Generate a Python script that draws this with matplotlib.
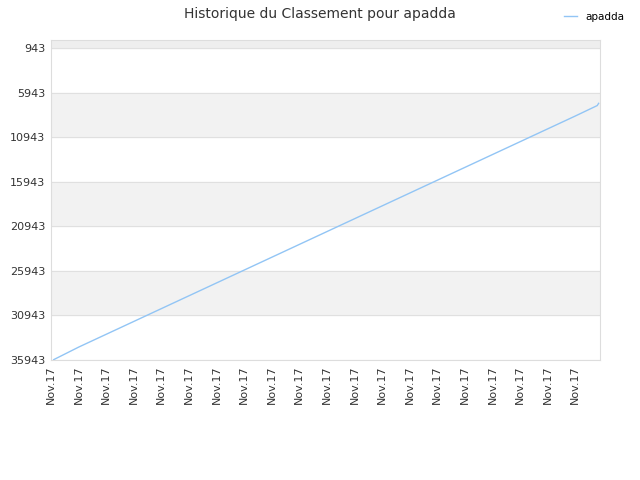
import matplotlib
matplotlib.use("Agg")
from matplotlib import pyplot as plt

# rank history (lower = better), one value per day
days = [0.1] + list(range(1, 20)) + [19.8, 19.85]
ranks = [35900, 34500, 33060, 31620, 30180, 28740, 27300, 25860, 24420, 22980,
         21540, 20100, 18660, 17220, 15780, 14340, 12900, 11460, 10020, 8580,
         7400, 7150]
tick_pos = list(range(20))
tick_labels = ["Nov.17"] * 20
yticks = [943, 5943, 10943, 15943, 20943, 25943, 30943, 35943]

fig = plt.figure(figsize=(6.4, 4.8), dpi=100)
ax = fig.add_axes([51 / 640, 1 - 360 / 480, 549 / 640, 320 / 480])

# alternating bands
ax.axhspan(46, 943, color="#eeeeee", zorder=0)
for i in range(len(yticks) - 1):
    if i % 2 == 1:
        ax.axhspan(yticks[i], yticks[i + 1], color="#f2f2f2", zorder=0)
for y in yticks:
    ax.axhline(y, color="#e0e0e0", lw=0.8, zorder=1)

ax.plot(days, ranks, color="#92c5f5", lw=1, label="apadda", zorder=3)

ax.set_xlim(0, 19.9)
ax.set_ylim(35943, 46)
ax.set_yticks(yticks)
ax.set_yticklabels([str(v) for v in yticks], fontsize=8, color="#333333")
ax.set_xticks(tick_pos)
ax.set_xticklabels(tick_labels, rotation=90, fontsize=8, color="#333333")
ax.tick_params(length=0, pad=4)
for s in ax.spines.values():
    s.set_color("#dddddd")

fig.suptitle("Historique du Classement pour apadda", fontsize=10, color="#333333", y=0.985)
fig.legend(loc="upper right", bbox_to_anchor=(0.99, 0.995), frameon=False, fontsize=7.5,
           handlelength=1.2)

fig.savefig("out.png")
